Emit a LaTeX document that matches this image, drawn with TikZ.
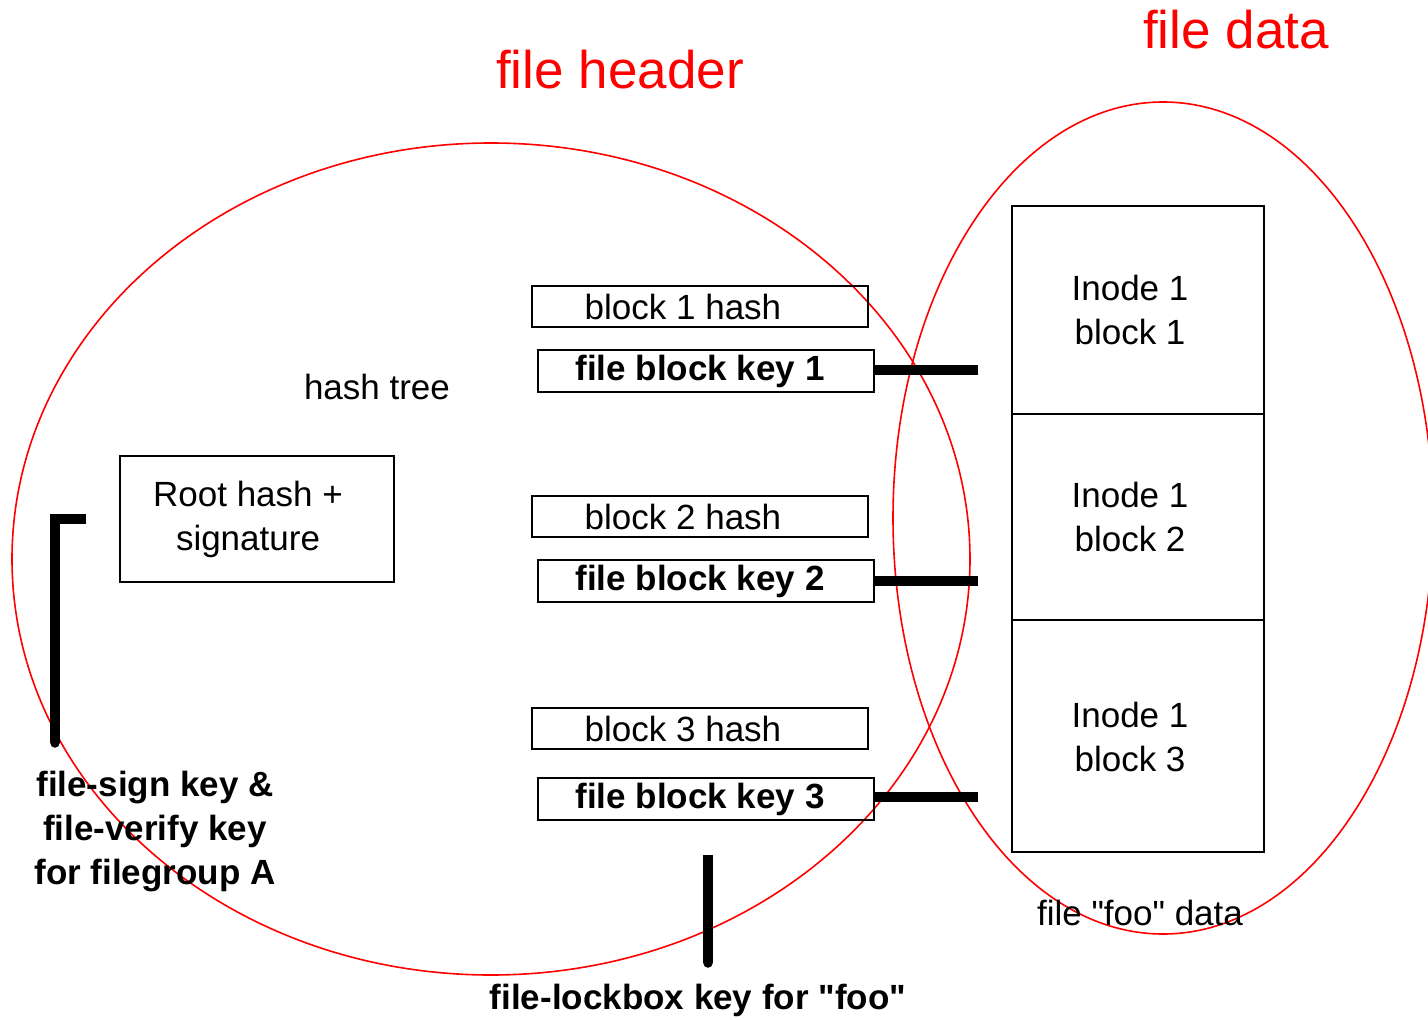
\documentclass[tikz,border=0pt]{standalone}
\usepackage{fontspec}
\setmainfont{Liberation Sans}[Ligatures=TeXOff]
\begin{document}
\begin{tikzpicture}[x=1pt,y=-1pt,
  txt/.style={font=\fontsize{35}{44}\selectfont},
  boldtxt/.style={font=\fontsize{35}{44}\selectfont\bfseries},
  hashbox/.style={draw,line width=2pt,minimum width=336pt,minimum height=41pt,inner sep=0pt},
  keybox/.style={draw,line width=2pt,minimum width=336pt,minimum height=42pt,inner sep=0pt},
  inodebox/.style={draw,line width=2pt,minimum width=252pt,inner sep=0pt},
  region/.style={draw=red,line width=1.6pt},
  regiontitle/.style={text=red,font=\fontsize{53}{60}\selectfont},
  thick link/.style={line width=9.5pt},
]
\useasboundingbox (0,0) rectangle (1428,1020);
\clip (0,0) rectangle (1428,1020);

% outlines of the two groups
\draw[region] (491,559) ellipse [x radius=479pt, y radius=416pt];
\draw[region] (1163,518) ellipse [x radius=270pt, y radius=416pt];
\node[regiontitle] (hdrtitle) at (620,70) {file header};
\node[regiontitle] (datatitle) at (1236,30) {file data};

% hash tree entries
\node[txt] (hashtree) at (377,387) {hash tree};
\node[hashbox,label={[txt,xshift=-17pt]center:block 1 hash}] (h1) at (700,306.5) {};
\node[hashbox,label={[txt,xshift=-17pt]center:block 2 hash}] (h2) at (700,516.5) {};
\node[hashbox,label={[txt,xshift=-17pt]center:block 3 hash}] (h3) at (700,728.5) {};
\node[keybox,label={[boldtxt,xshift=-6pt]center:file block key 1}] (k1) at (706,371) {};
\node[keybox,label={[boldtxt,xshift=-6pt]center:file block key 2}] (k2) at (706,581) {};
\node[keybox,label={[boldtxt,xshift=-6pt]center:file block key 3}] (k3) at (706,799) {};

% root of the tree
\node[draw,line width=2pt,minimum width=274pt,minimum height=126pt,inner sep=0pt,
      label={[txt,align=center,xshift=-9pt]center:Root hash +\\signature}] (root) at (257,519) {};

% data blocks of inode 1
\node[inodebox,minimum height=208pt,label={[txt,align=center,xshift=-8pt]center:Inode 1\\block 1}] (d1) at (1138,310) {};
\node[inodebox,minimum height=206pt,label={[txt,align=center,xshift=-8pt]center:Inode 1\\block 2}] (d2) at (1138,517) {};
\node[inodebox,minimum height=232pt,label={[txt,align=center,xshift=-8pt,yshift=-1pt]center:Inode 1\\block 3}] (d3) at (1138,736) {};

% key links
\coordinate (e1) at (978,370);
\coordinate (e2) at (978,581);
\coordinate (e3) at (978,797);
\draw[thick link] (k1.east |- e1) -- (e1);
\draw[thick link] (k2.east |- e2) -- (e2);
\draw[thick link] (k3.east |- e3) -- (e3);

% signing keys bracket
\coordinate (s0) at (86,519);
\coordinate (s1) at (55,519);
\coordinate (s2) at (55,743);
\draw[thick link,line join=miter] (s0) -- (s1) -- (s2);
\fill (s2) circle (4.75pt);
\node[boldtxt,align=center] (signkeys) at (155,832) {file-sign key \&\\file-verify key\\for filegroup A};

% lockbox key
\coordinate (l0) at (708,855);
\coordinate (l1) at (708,963);
\draw[thick link] (l0) -- (l1);
\fill (l1) circle (4.75pt);
\node[boldtxt] (lockbox) at (698,1000) {file-lockbox key for "foo"};

\node[txt] (foodata) at (1140,913) {file "foo" data};
\end{tikzpicture}
\end{document}
